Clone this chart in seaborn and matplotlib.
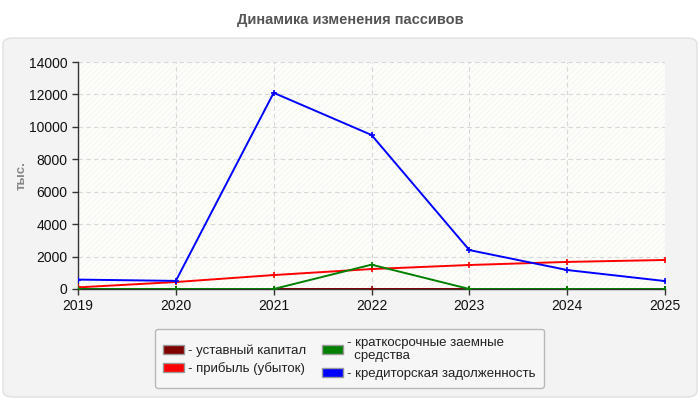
import numpy as np
import pandas as pd
import seaborn as sns
from matplotlib import pyplot as plt
from matplotlib.patches import FancyBboxPatch, Rectangle, Patch

years = [2019, 2020, 2021, 2022, 2023, 2024, 2025]
ustavny = [10, 10, 10, 10, 10, 10, 10]
pribyl = [100, 430, 860, 1230, 1480, 1670, 1790]
kratko = [0, 0, 0, 1500, 0, 0, 0]
kredit = [580, 500, 12100, 9500, 2400, 1170, 490]

names = ["- уставный капитал", "- прибыль (убыток)",
         "- краткосрочные заемные\n  средства", "- кредиторская задолженность"]
colors = ["#800000", "#ff0000", "#008000", "#0000ff"]
series = [ustavny, pribyl, kratko, kredit]

df = pd.DataFrame({
    "year": np.tile(years, len(names)),
    "value": np.concatenate(series),
    "series": np.repeat(names, len(years)),
})
palette = dict(zip(names, colors))

sns.set_style("white")
plt.rcParams["font.family"] = ["Liberation Sans", "DejaVu Sans"]
plt.rcParams["hatch.linewidth"] = 0.5

fig = plt.figure(figsize=(7, 4), dpi=100)
fig.patch.set_facecolor("white")
panel = FancyBboxPatch((3 / 700, 3 / 400), 694 / 700, 359 / 400,
                       boxstyle="round,pad=0,rounding_size=0.015",
                       transform=fig.transFigure, facecolor="#f3f3f3",
                       edgecolor="#e0e0e0", linewidth=1, zorder=-10)
fig.patches.append(panel)
fig.text(0.5, 1 - 20 / 400, "Динамика изменения пассивов", ha="center", va="center",
         fontsize=10.5, fontweight="bold", color="#555555")

ax = fig.add_axes([78 / 700, 1 - 289 / 400, 587 / 700, 227 / 400])
ax.set_facecolor("#fdfdfa")
ax.add_patch(Rectangle((0, 0), 1, 1, transform=ax.transAxes, facecolor="none",
                       hatch="//////", edgecolor="#f2f2f2", linewidth=0, zorder=0))

sns.lineplot(data=df, x="year", y="value", hue="series", hue_order=names, palette=palette,
             marker="+", markersize=5, linewidth=1.4, ax=ax, legend=False, zorder=3)
for line in ax.lines:
    line.set_markeredgecolor(line.get_color())
    line.set_markeredgewidth(1.2)

ax.set_xlim(2019, 2025)
ax.set_ylim(0, 14000)
ax.set_xticks(years)
ax.set_yticks(range(0, 14001, 2000))
ax.grid(True, color="#d8d8d8", linestyle=(0, (4, 3)), linewidth=0.8)
ax.set_axisbelow(True)
for s in ["top", "right"]:
    ax.spines[s].set_visible(False)
for s in ["left", "bottom"]:
    ax.spines[s].set_color("#333333")
    ax.spines[s].set_linewidth(1)
ax.tick_params(axis="both", which="both", direction="out", length=4, width=1,
               color="#333333", labelsize=10, labelcolor="#111111", left=True, bottom=True)
ax.set_xlabel("")
ax.set_ylabel("тыс.", fontsize=9.5, fontweight="bold", color="#888888", labelpad=1)

handles = [Patch(facecolor=c, edgecolor="#999999", label=n) for n, c in zip(names, colors)]
leg = fig.legend(handles=handles, loc="upper center", bbox_to_anchor=(0.499, 1 - 322 / 400),
                 ncol=2, fontsize=9.5, frameon=True, fancybox=True, handlelength=1.6,
                 handleheight=0.7, handletextpad=0.3, columnspacing=1.2, labelspacing=0.4,
                 borderpad=0.6)
leg.get_frame().set_facecolor("#f7f7f7")
leg.get_frame().set_edgecolor("#aaaaaa")
for t in leg.get_texts():
    t.set_color("#222222")

fig.savefig("out.png", dpi=100, facecolor=fig.get_facecolor())
